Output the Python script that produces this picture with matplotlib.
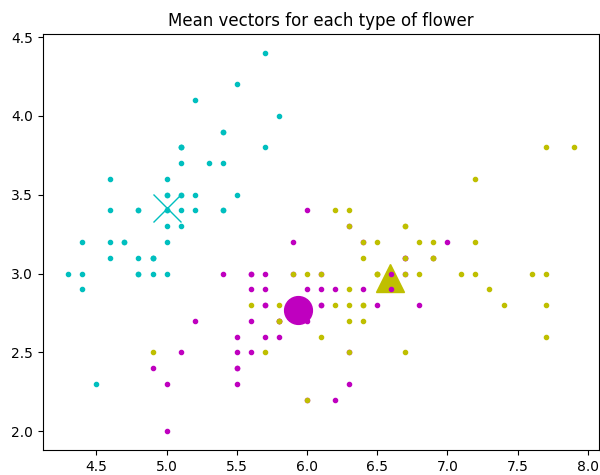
import matplotlib
matplotlib.use("Agg")
import matplotlib.pyplot as plt
import numpy as np

setosa_x = [5.1, 4.9, 4.7, 4.6, 5.0, 5.4, 4.6, 5.0, 4.4, 4.9, 5.4, 4.8, 4.8, 4.3, 5.8, 5.7, 5.4, 5.1, 5.7, 5.1,
            5.4, 5.1, 4.6, 5.1, 4.8, 5.0, 5.0, 5.2, 5.2, 4.7, 4.8, 5.4, 5.2, 5.5, 4.9, 5.0, 5.5, 4.9, 4.4, 5.1,
            5.0, 4.5, 4.4, 5.0, 5.1, 4.8, 5.1, 4.6, 5.3, 5.0]
setosa_y = [3.5, 3.0, 3.2, 3.1, 3.6, 3.9, 3.4, 3.4, 2.9, 3.1, 3.7, 3.4, 3.0, 3.0, 4.0, 4.4, 3.9, 3.5, 3.8, 3.8,
            3.4, 3.7, 3.6, 3.3, 3.4, 3.0, 3.4, 3.5, 3.4, 3.2, 3.1, 3.4, 4.1, 4.2, 3.1, 3.2, 3.5, 3.1, 3.0, 3.4,
            3.5, 2.3, 3.2, 3.5, 3.8, 3.0, 3.8, 3.2, 3.7, 3.3]

versicolor_x = [7.0, 6.4, 6.9, 5.5, 6.5, 5.7, 6.3, 4.9, 6.6, 5.2, 5.0, 5.9, 6.0, 6.1, 5.6, 6.7, 5.6, 5.8, 6.2, 5.6,
                5.9, 6.1, 6.3, 6.1, 6.4, 6.6, 6.8, 6.7, 6.0, 5.7, 5.5, 5.5, 5.8, 6.0, 5.4, 6.0, 6.7, 6.3, 5.6, 5.5,
                5.5, 6.1, 5.8, 5.0, 5.6, 5.7, 5.7, 6.2, 5.1, 5.7]
versicolor_y = [3.2, 3.2, 3.1, 2.3, 2.8, 2.8, 3.3, 2.4, 2.9, 2.7, 2.0, 3.0, 2.2, 2.9, 2.9, 3.1, 3.0, 2.7, 2.2, 2.5,
                3.2, 2.8, 2.5, 2.8, 2.9, 3.0, 2.8, 3.0, 2.9, 2.6, 2.4, 2.4, 2.7, 2.7, 3.0, 3.4, 3.1, 2.3, 3.0, 2.5,
                2.6, 3.0, 2.6, 2.3, 2.7, 3.0, 2.9, 2.9, 2.5, 2.8]

virginica_x = [6.3, 5.8, 7.1, 6.3, 6.5, 7.6, 4.9, 7.3, 6.7, 7.2, 6.5, 6.4, 6.8, 5.7, 5.8, 6.4, 6.5, 7.7, 7.7, 6.0,
               6.9, 5.6, 7.7, 6.3, 6.7, 7.2, 6.2, 6.1, 6.4, 7.2, 7.4, 7.9, 6.4, 6.3, 6.1, 7.7, 6.3, 6.4, 6.0, 6.9,
               6.7, 6.9, 5.8, 6.8, 6.7, 6.7, 6.3, 6.5, 6.2, 5.9]
virginica_y = [3.3, 2.7, 3.0, 2.9, 3.0, 3.0, 2.5, 2.9, 2.5, 3.6, 3.2, 2.7, 3.0, 2.5, 2.8, 3.2, 3.0, 3.8, 2.6, 2.2,
               3.2, 2.8, 2.8, 2.7, 3.3, 3.2, 2.8, 3.0, 2.8, 3.0, 2.8, 3.8, 2.8, 2.8, 2.6, 3.0, 3.4, 3.1, 3.0, 3.1,
               3.1, 3.1, 2.7, 3.2, 3.3, 3.0, 2.5, 3.0, 3.4, 3.0]

title = "Mean vectors for each type of flower"

fig = plt.figure(figsize=(6, 4.75), dpi=100)
ax = fig.add_axes([43 / 600, 25 / 475, 556 / 600, 416 / 475])

ax.plot(setosa_x, setosa_y, 'c.')
ax.plot([np.mean(setosa_x)], [np.mean(setosa_y)], 'cx', markersize=20)
ax.plot([np.mean(virginica_x)], [np.mean(virginica_y)], 'y^', markersize=20)
ax.plot(versicolor_x, versicolor_y, 'm.')
ax.plot(virginica_x, virginica_y, 'y.')
ax.plot([np.mean(versicolor_x)], [np.mean(versicolor_y)], 'mo', markersize=20)

ax.set_title(title)

fig.savefig("out.png", dpi=100)
